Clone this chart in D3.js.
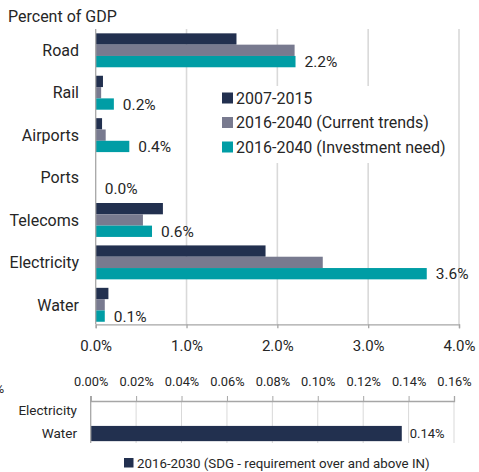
<!DOCTYPE html>
<html>
<head>
<meta charset="utf-8">
<script src="https://cdn.jsdelivr.net/npm/d3@7"></script>
<style>
  html, body { margin: 0; padding: 0; background: #fff; }
  svg { display: block; font-family: Roboto, "Liberation Sans", sans-serif; }
</style>
</head>
<body>
<svg id="chart" width="479" height="472"></svg>
<script>
// Infrastructure spending by sector, percent of GDP
const categories = ["Road", "Rail", "Airports", "Ports", "Telecoms", "Electricity", "Water"];
const seriesNames = ["2007-2015", "2016-2040 (Current trends)", "2016-2040 (Investment need)"];
const past2007to2015 = [1.55, 0.08, 0.07, 0.0, 0.74, 1.87, 0.14];
const currentTrends = [2.19, 0.06, 0.11, 0.0, 0.52, 2.5, 0.1];
const investmentNeed = [2.2, 0.2, 0.37, 0.0, 0.62, 3.645, 0.1];
const needLabels = ["2.2%", "0.2%", "0.4%", "0.0%", "0.6%", "3.6%", "0.1%"];
const mainTicks = [0, 1, 2, 3, 4];

// Additional SDG requirement
const sdgCategories = ["Electricity", "Water"];
const sdgValues = [0, 0.137];
const sdgLabels = ["", "0.14%"];
const sdgTicks = [0, 0.02, 0.04, 0.06, 0.08, 0.10, 0.12, 0.14, 0.16];
const sdgSeriesName = "2016-2030 (SDG - requirement over and above IN)";

const colors = ["#22304f", "#787a8f", "#009da5"];
const textColor = "#262626";
const gridColor = "#d9d9d9";
const axisColor = "#a6a6a6";
const fontFamily = "Roboto, 'Liberation Sans', sans-serif";

const svg = d3.select("#chart");

// ---------- main chart ----------
const x = d3.scaleLinear().domain([0, 4]).range([95.7, 459]);
const y = d3.scaleBand().domain(categories).range([29.1, 326]).paddingInner(0.2).paddingOuter(0.1);
const series = [past2007to2015, currentTrends, investmentNeed];
const sub = d3.scaleBand().domain([0, 1, 2]).range([0, y.bandwidth()]);

svg.append("text")
  .attr("x", 8).attr("y", 16).attr("dy", "0.36em")
  .attr("font-size", 16).attr("fill", textColor)
  .text("Percent of GDP");

// vertical gridlines
svg.append("g").selectAll("line")
  .data(mainTicks.slice(1))
  .join("line")
  .attr("x1", d => x(d)).attr("x2", d => x(d))
  .attr("y1", 29).attr("y2", 324)
  .attr("stroke", gridColor).attr("stroke-width", 1.6);

// bars
const groups = svg.append("g").selectAll("g")
  .data(categories)
  .join("g")
  .attr("transform", d => `translate(0,${y(d)})`);

series.forEach((vals, si) => {
  groups.append("rect")
    .attr("x", x(0))
    .attr("y", sub(si))
    .attr("width", (d, i) => x(vals[i]) - x(0))
    .attr("height", sub.bandwidth())
    .attr("fill", colors[si]);
});

// value labels beside the investment-need bar
groups.append("text")
  .attr("x", (d, i) => x(investmentNeed[i]) + 9)
  .attr("y", sub(2) + sub.bandwidth() / 2)
  .attr("dy", "0.36em")
  .attr("font-size", 15.5).attr("fill", textColor)
  .text((d, i) => needLabels[i]);

// category labels
svg.append("g").selectAll("text")
  .data(categories)
  .join("text")
  .attr("x", 79)
  .attr("y", d => y(d) + y.bandwidth() / 2)
  .attr("dy", "0.36em")
  .attr("text-anchor", "end")
  .attr("font-size", 16).attr("fill", textColor)
  .text(d => d);

// y axis line
svg.append("line")
  .attr("x1", x(0)).attr("x2", x(0)).attr("y1", 29).attr("y2", 324)
  .attr("stroke", axisColor).attr("stroke-width", 1.3);

// x axis
const xAxis = svg.append("g")
  .attr("transform", "translate(0,324.3)")
  .call(d3.axisBottom(x).tickValues(mainTicks).tickFormat(d => d.toFixed(1) + "%").tickSize(4).tickPadding(12));
xAxis.select(".domain").attr("stroke", axisColor).attr("stroke-width", 1.3);
xAxis.selectAll(".tick line").attr("stroke", axisColor).attr("stroke-width", 1.3);
xAxis.selectAll(".tick text").attr("font-size", 15).attr("fill", textColor)
  .attr("font-family", fontFamily);

// legend with white backdrop over the gridlines
const legend = svg.append("g");
legend.append("rect")
  .attr("x", 218).attr("y", 86).attr("width", 236).attr("height", 77)
  .attr("fill", "#fff");
seriesNames.forEach((name, i) => {
  const cy = 98 + i * 24.5;
  legend.append("rect")
    .attr("x", 222).attr("y", cy - 5.5).attr("width", 11).attr("height", 11)
    .attr("fill", colors[i]);
  legend.append("text")
    .attr("x", 236).attr("y", cy).attr("dy", "0.36em")
    .attr("font-size", 16).attr("fill", textColor)
    .text(name);
});

// ---------- SDG chart ----------
const x2 = d3.scaleLinear().domain([0, 0.16]).range([90.7, 454]);
const y2 = d3.scaleBand().domain(sdgCategories).range([401, 443]).paddingInner(0.34).paddingOuter(0.08);

svg.append("g").selectAll("line")
  .data(sdgTicks.slice(1))
  .join("line")
  .attr("x1", d => x2(d)).attr("x2", d => x2(d))
  .attr("y1", 401).attr("y2", 443)
  .attr("stroke", gridColor).attr("stroke-width", 1);

svg.append("g").selectAll("rect")
  .data(sdgCategories)
  .join("rect")
  .attr("x", x2(0))
  .attr("y", d => y2(d))
  .attr("width", (d, i) => x2(sdgValues[i]) - x2(0))
  .attr("height", y2.bandwidth())
  .attr("fill", colors[0]);

svg.append("g").selectAll("text")
  .data(sdgCategories)
  .join("text")
  .attr("x", (d, i) => x2(sdgValues[i]) + 8)
  .attr("y", d => y2(d) + y2.bandwidth() / 2)
  .attr("dy", "0.36em")
  .attr("font-size", 13).attr("fill", textColor)
  .text((d, i) => sdgLabels[i]);

svg.append("g").selectAll("text")
  .data(sdgCategories)
  .join("text")
  .attr("x", 77)
  .attr("y", d => y2(d) + y2.bandwidth() / 2)
  .attr("dy", "0.36em")
  .attr("text-anchor", "end")
  .attr("font-size", 13.5).attr("fill", textColor)
  .text(d => d);

svg.append("line")
  .attr("x1", x2(0)).attr("x2", x2(0)).attr("y1", 396).attr("y2", 443)
  .attr("stroke", axisColor).attr("stroke-width", 1.3);

const x2Axis = svg.append("g")
  .attr("transform", "translate(0,401)")
  .call(d3.axisTop(x2).tickValues(sdgTicks).tickFormat(d => d.toFixed(2) + "%").tickSize(5).tickPadding(10));
x2Axis.select(".domain").attr("stroke", axisColor).attr("stroke-width", 1.3);
x2Axis.selectAll(".tick line").attr("stroke", axisColor).attr("stroke-width", 1);
x2Axis.selectAll(".tick text").attr("font-size", 12.8).attr("fill", textColor)
  .attr("font-family", fontFamily);

// narrow tick fragment at the far left edge
svg.append("text")
  .attr("x", 4).attr("y", 388).attr("dy", "0.36em")
  .attr("text-anchor", "end")
  .attr("font-size", 12.8).attr("fill", textColor)
  .text("%");

// SDG legend
svg.append("rect")
  .attr("x", 124).attr("y", 458).attr("width", 9.5).attr("height", 9.5)
  .attr("fill", colors[0]);
svg.append("text")
  .attr("x", 137).attr("y", 463).attr("dy", "0.36em")
  .attr("font-size", 13.3).attr("fill", textColor)
  .text(sdgSeriesName);
</script>
</body>
</html>
